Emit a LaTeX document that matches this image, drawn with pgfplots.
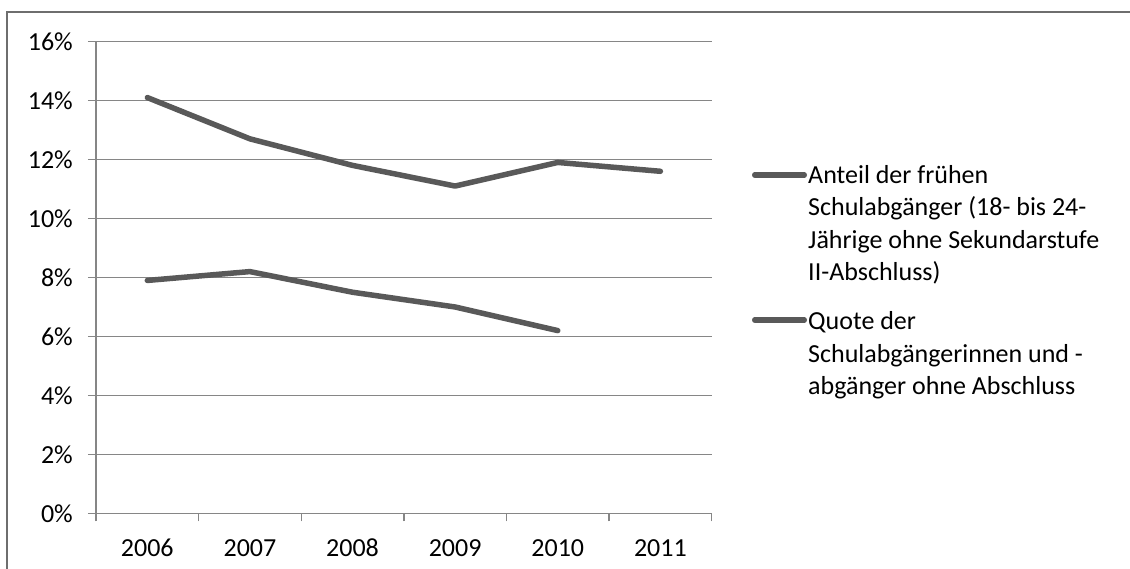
\documentclass[border=0pt]{standalone}
\usepackage{pgfplots}
\pgfplotsset{compat=1.18}
\usepackage{fontspec}
\setmainfont{Carlito}

\definecolor{serie}{HTML}{595959}
\definecolor{gridgray}{HTML}{868686}
\definecolor{framegray}{HTML}{6E6E6E}

% Early school leavers (in %)
\pgfplotstableread{
x  val
0  14.1
1  12.7
2  11.8
3  11.1
4  11.9
5  11.6
}\fruehe
% School leavers without a certificate (in %)
\pgfplotstableread{
x  val
0  7.9
1  8.2
2  7.5
3  7.0
4  6.2
}\ohneabschluss

\newcommand{\chartfont}{\fontsize{26}{32}\selectfont}

\begin{document}
\begin{tikzpicture}
% page area (1 unit = 1pt), origin at the lower left corner of the plot area
\useasboundingbox (-96pt,-55.5pt) rectangle (1034pt,513.5pt);
\begin{axis}[
  scale only axis,
  width=615.7pt, height=472pt,
  at={(0pt,0pt)}, anchor=south west,
  xmin=-0.5, xmax=5.5,
  ymin=0, ymax=16,
  axis x line=bottom, axis y line=left,
  axis line style={-, draw=gridgray, line width=1.6pt},
  xtick={-0.5,0.5,...,5.5}, xticklabels={},
  extra x ticks={0,1,2,3,4,5},
  extra x tick labels={2006,2007,2008,2009,2010,2011},
  extra x tick style={major tick length=0pt, grid=none},
  ytick={0,2,...,16},
  yticklabels={0\%,2\%,4\%,6\%,8\%,10\%,12\%,14\%,16\%},
  ymajorgrids,
  major grid style={draw=gridgray, line width=1.2pt},
  tick align=outside,
  major tick length=8pt,
  tick style={draw=gridgray, line width=1.4pt},
  xticklabel style={font=\chartfont, inner sep=0pt, anchor=base, yshift=-43pt},
  yticklabel style={font=\chartfont, inner sep=0pt, anchor=east, xshift=-15pt},
  clip=false,
]
\addplot[serie, line width=5.5pt, line cap=round, line join=round] table[x=x, y=val] {\fruehe};
\addplot[serie, line width=5.5pt, line cap=round, line join=round] table[x=x, y=val] {\ohneabschluss};
\end{axis}
% legend to the right of the plot area
\begin{scope}[every node/.style={font=\chartfont, inner sep=0pt, anchor=base west}]
\draw[serie, line width=5.5pt, line cap=round] (658.75pt,338.5pt) -- (708.25pt,338.5pt);
\node at (712pt,330.1pt) {Anteil der frühen};
\node at (712pt,297.6pt) {Schulabgänger (18- bis 24-};
\node at (712pt,265.1pt) {Jährige ohne Sekundarstufe};
\node at (712pt,232.6pt) {II-Abschluss)};
\draw[serie, line width=5.5pt, line cap=round] (658.75pt,193.5pt) -- (708.25pt,193.5pt);
\node at (712pt,183.5pt) {Quote der};
\node at (712pt,151pt) {Schulabgängerinnen und -};
\node at (712pt,118.5pt) {abgänger ohne Abschluss};
\end{scope}
% outer frame of the chart area
\begin{scope}
\clip (-96pt,-55.5pt) rectangle (1034pt,513.5pt);
\draw[framegray, line width=1.8pt] (-89pt,-80pt) rectangle (1060pt,501.5pt);
\end{scope}
\end{tikzpicture}
\end{document}
